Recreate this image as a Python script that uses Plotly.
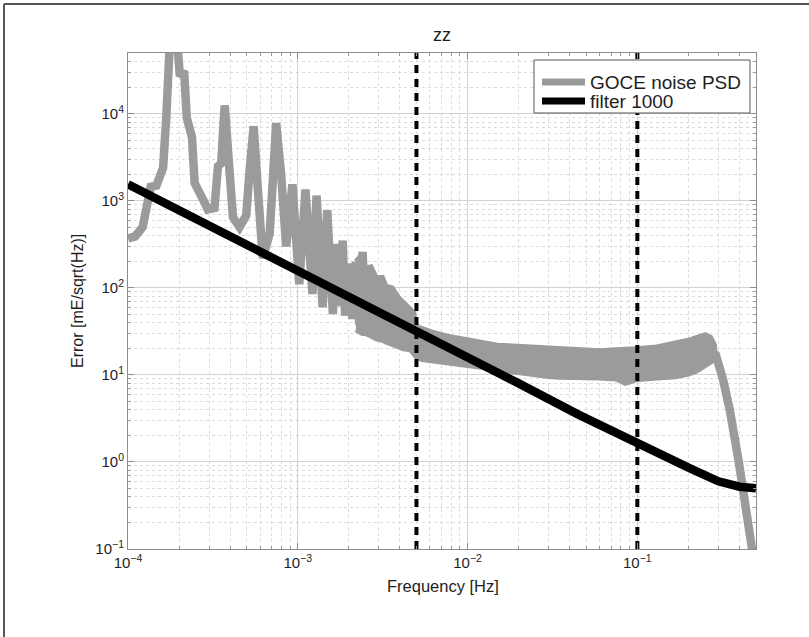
import plotly.graph_objects as go

# ---------------- data ----------------
# GOCE noise PSD, low-frequency part with orbital harmonic peaks (centre line)
psd_freq = [1.0e-4, 1.1e-4, 1.22e-4, 1.31e-4, 1.36e-4, 1.47e-4, 1.61e-4, 1.68e-4, 1.76e-4,
            1.86e-4, 1.96e-4, 2.02e-4, 2.14e-4, 2.22e-4, 2.38e-4, 2.47e-4, 2.64e-4, 2.83e-4,
            2.95e-4, 3.23e-4, 3.39e-4, 3.54e-4, 3.71e-4, 3.87e-4, 4.15e-4, 4.54e-4, 4.97e-4,
            5.2e-4, 5.5e-4, 5.82e-4, 6.22e-4, 6.83e-4, 7.14e-4, 7.46e-4, 7.98e-4, 8.55e-4,
            9.3e-4, 1.02e-3, 1.11e-3, 1.22e-3, 1.29e-3, 1.40e-3, 1.49e-3, 1.61e-3, 1.67e-3,
            1.75e-3, 1.84e-3, 1.90e-3, 2.0e-3, 2.1e-3, 2.2e-3, 2.3e-3, 2.41e-3, 2.5e-3]
psd_value = [370, 390, 500, 950, 1450, 1500, 2400, 9000, 60000,
             60000, 60000, 27000, 31000, 9000, 5400, 1600, 1300, 950,
             800, 830, 2500, 2700, 12500, 3200, 650, 500, 680,
             2200, 7200, 1350, 220, 420, 2000, 7800, 2000, 300,
             1550, 110, 1350, 85, 1150, 60, 780, 50, 320,
             62, 350, 48, 190, 44, 200, 38, 260, 40]

# GOCE noise PSD, broadband part: upper / lower edges of the noisy band
band_freq = [2.2e-3, 2.4e-3, 2.5e-3, 2.7e-3, 2.9e-3, 3.15e-3, 3.3e-3, 3.6e-3, 3.9e-3,
             4.2e-3, 4.6e-3, 4.8e-3, 5.0e-3, 5.4e-3, 6.2e-3, 7.5e-3, 9.0e-3, 1.17e-2,
             1.5e-2, 2.2e-2, 3.0e-2, 3.5e-2, 4.5e-2, 6.0e-2, 7.5e-2, 8.5e-2, 9.8e-2,
             1.3e-1, 1.68e-1, 2.0e-1, 2.25e-1, 2.52e-1, 2.7e-1, 2.85e-1]
band_upper = [200, 245, 170, 175, 130, 132, 105, 100, 78,
              68, 55, 52, 36, 34, 31, 28, 26, 24,
              22, 21, 20.5, 20, 19.5, 19, 19.5, 19.5, 20,
              21, 23, 25, 27, 29, 27, 22]
band_lower = [33, 30, 30, 28, 26, 25, 24, 22, 21,
              20, 19.5, 18, 16, 15, 14.2, 13.8, 13.2, 12.3,
              11.4, 10.3, 9.6, 9.4, 9.2, 9.2, 9.0, 8.0, 8.8,
              9.2, 9.5, 10.2, 11.2, 12.5, 14, 15]

# GOCE noise PSD, high-frequency roll-off (centre line)
roll_freq = [0.265, 0.29, 0.32, 0.35, 0.396, 0.419, 0.454, 0.468, 0.49, 0.5]
roll_value = [20, 17, 8.8, 4.0, 1.0, 0.48, 0.197, 0.107, 0.06, 0.05]

# filter 1000
filt_freq = [1e-4, 1e-3, 3e-3, 5e-3, 1e-2, 2e-2, 4.5e-2, 0.1, 0.15, 0.2, 0.3, 0.4, 0.5]
filt_value = [1550, 160, 53.5, 32, 16, 8.0, 3.5, 1.62, 1.15, 0.86, 0.6, 0.52, 0.5]

# vertical band limits
vline_freq = [5e-3, 1e-1]
y_limits = [0.1, 5e4]

# tick labels
x_tickvals = [1e-4, 1e-3, 1e-2, 1e-1]
x_ticktext = ["10<sup>−4</sup>", "10<sup>−3</sup>", "10<sup>−2</sup>", "10<sup>−1</sup>"]
y_tickvals = [1e-1, 1e0, 1e1, 1e2, 1e3, 1e4]
y_ticktext = ["10<sup>−1</sup>", "10<sup>0</sup>", "10<sup>1</sup>", "10<sup>2</sup>",
              "10<sup>3</sup>", "10<sup>4</sup>"]

legend_labels = ["GOCE noise PSD", "filter 1000"]

GRAY = "#9b9b9b"
LW = 8.5
FONT = "Liberation Sans, Arial, sans-serif"
TXT = "#1e1e1e"

# minor tick positions (2..9 within each decade)
x_minor = [m * 10.0 ** e for e in range(-4, 0) for m in range(2, 10)]
y_minor = [m * 10.0 ** e for e in range(-1, 5) for m in range(2, 10)]

# plot-area geometry in pixels (for paper-coordinate helpers)
L, R, T, B = 128, 756, 53, 549
def px(xp):
    return (xp - L) / (R - L)
def py(yp):
    return (B - yp) / (B - T)

fig = go.Figure()

# broadband noisy region as filled band
fig.add_trace(go.Scatter(
    x=band_freq + band_freq[::-1], y=band_upper + band_lower[::-1],
    mode="lines", fill="toself", fillcolor=GRAY,
    line=dict(color=GRAY, width=5), showlegend=False, hoverinfo="skip"))

fig.add_trace(go.Scatter(
    x=roll_freq, y=roll_value, mode="lines",
    line=dict(color=GRAY, width=LW), showlegend=False))

fig.add_trace(go.Scatter(
    x=psd_freq, y=psd_value, mode="lines", name=legend_labels[0],
    line=dict(color=GRAY, width=LW), showlegend=False))

fig.add_trace(go.Scatter(
    x=filt_freq, y=filt_value, mode="lines", name=legend_labels[1],
    line=dict(color="black", width=LW), showlegend=False))

for vf in vline_freq:
    fig.add_trace(go.Scatter(
        x=[vf, vf], y=y_limits, mode="lines", showlegend=False,
        line=dict(color="black", width=4, dash="8px,6px")))

axis_common = dict(
    type="log", automargin=False,
    showline=True, linecolor="#8c8c8c", linewidth=1, mirror="ticks",
    ticks="inside", ticklen=6, tickcolor="#8c8c8c",
    showgrid=True, gridcolor="#d2d2d2", gridwidth=1, zeroline=False,
    tickfont=dict(family=FONT, size=15, color=TXT),
    tickmode="array",
)
minor_common = dict(ticks="inside", ticklen=3, tickcolor="#9a9a9a", showgrid=True,
                    gridcolor="#dcdcdc", griddash="dot", gridwidth=1, tickmode="array")

fig.update_xaxes(**axis_common, range=[-4, -0.30103],
                 tickvals=x_tickvals, ticktext=x_ticktext,
                 minor=dict(**minor_common, tickvals=x_minor))
fig.update_yaxes(**axis_common, range=[-1, 4.699],
                 tickvals=y_tickvals, ticktext=y_ticktext,
                 minor=dict(**minor_common, tickvals=y_minor))

annotations = [
    dict(text="zz", xref="paper", yref="paper", x=0.5, y=py(35), xanchor="center",
         yanchor="middle", showarrow=False, font=dict(family=FONT, size=18, color=TXT)),
    dict(text="Frequency [Hz]", xref="paper", yref="paper", x=px(443), y=py(586),
         xanchor="center", yanchor="middle", showarrow=False,
         font=dict(family=FONT, size=16.5, color=TXT)),
    dict(text="Error [mE/sqrt(Hz)]", xref="paper", yref="paper", x=px(77), y=py(301),
         xanchor="center", yanchor="middle", textangle=-90, showarrow=False,
         font=dict(family=FONT, size=16, color=TXT)),
    dict(text=legend_labels[0], xref="paper", yref="paper", x=px(588), y=py(82),
         xanchor="left", yanchor="middle", showarrow=False,
         font=dict(family=FONT, size=19, color=TXT)),
    dict(text=legend_labels[1], xref="paper", yref="paper", x=px(588), y=py(101),
         xanchor="left", yanchor="middle", showarrow=False,
         font=dict(family=FONT, size=19, color=TXT)),
]

shapes = [
    # outer page frame (top and left edges)
    dict(type="line", xref="paper", yref="paper", x0=px(4), x1=px(830), y0=py(4), y1=py(4),
         line=dict(color="#555555", width=2)),
    dict(type="line", xref="paper", yref="paper", x0=px(4), x1=px(4), y0=py(660), y1=py(4),
         line=dict(color="#555555", width=2)),
    # legend box and samples
    dict(type="rect", xref="paper", yref="paper", x0=px(534), x1=px(750), y0=py(113), y1=py(60),
         line=dict(color="#555555", width=1), fillcolor="white", layer="above"),
    dict(type="line", xref="paper", yref="paper", x0=px(542), x1=px(585), y0=py(82), y1=py(82),
         line=dict(color=GRAY, width=7), layer="above"),
    dict(type="line", xref="paper", yref="paper", x0=px(542), x1=px(585), y0=py(101), y1=py(101),
         line=dict(color="black", width=7), layer="above"),
]

fig.update_layout(
    width=809, height=637,
    margin=dict(l=L, r=809 - R, t=T, b=637 - B, autoexpand=False),
    paper_bgcolor="white", plot_bgcolor="white",
    showlegend=False,
    annotations=annotations,
    shapes=shapes,
)

fig.write_html("out.html", config={"displayModeBar": False},
               post_script="document.body.style.margin='0px';document.body.style.padding='0px';")
